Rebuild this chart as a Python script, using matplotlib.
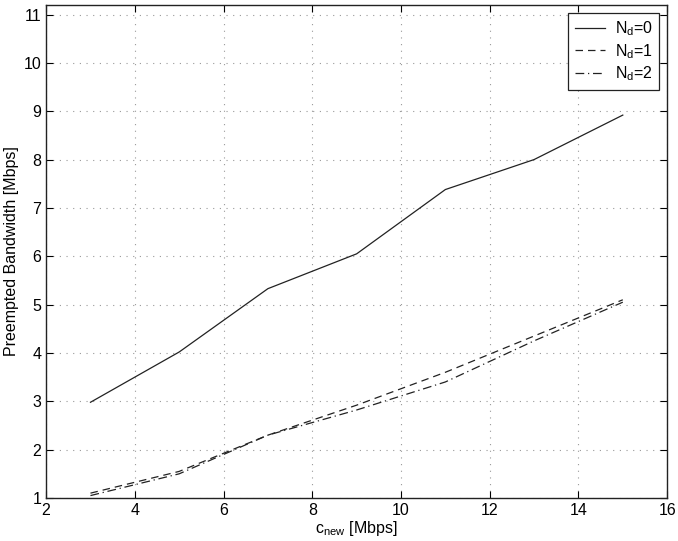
import numpy as np
import matplotlib.pyplot as plt

plt.rcParams['font.family'] = ['Liberation Sans', 'DejaVu Sans']
plt.rcParams['mathtext.fontset'] = 'custom'
plt.rcParams['mathtext.rm'] = 'Liberation Sans'

# data
c_new = [3, 5, 7, 9, 11, 13, 15]
bw_nd0 = [2.98, 4.02, 5.33, 6.05, 7.38, 8.00, 8.92]
bw_nd1 = [1.10, 1.55, 2.30, 2.92, 3.60, 4.35, 5.10]
bw_nd2 = [1.05, 1.50, 2.30, 2.82, 3.40, 4.25, 5.05]
labels = [r'N$_\mathregular{d}$=0', r'N$_\mathregular{d}$=1', r'N$_\mathregular{d}$=2']

fig = plt.figure(figsize=(6.78, 5.41), dpi=100)
ax = fig.add_axes([0.068, 0.0795, 0.916, 0.9115])

ax.plot(c_new, bw_nd0, color='#222222', lw=0.9, ls='-', label=labels[0])
ax.plot(c_new, bw_nd1, color='#222222', lw=0.9, ls=(0, (6, 4)), label=labels[1])
ax.plot(c_new, bw_nd2, color='#222222', lw=0.9, ls=(0, (7, 3, 1, 3)), label=labels[2])

ax.set_xlim(2, 16)
ax.set_ylim(1, 11.2)
ax.set_xticks(np.arange(2, 17, 2))
ax.set_yticks(np.arange(1, 12, 1))
ax.grid(True, color='#999999', ls=(0, (1, 5)), lw=0.8)
ax.tick_params(direction='in', top=True, right=True, labelsize=11.5, length=5)
for s in ax.spines.values():
    s.set_color('#222222')
    s.set_linewidth(1.0)

ax.set_xlabel(r'c$_\mathregular{new}$ [Mbps]', fontsize=11.5, labelpad=1)
ax.set_ylabel('Preempted Bandwidth [Mbps]', fontsize=11.5, labelpad=3)

leg = ax.legend(loc='upper right', fontsize=11.5, fancybox=False, framealpha=1,
                edgecolor='#222222', handlelength=1.9, borderaxespad=0.5,
                labelspacing=0.25, handletextpad=0.6)
leg.get_frame().set_linewidth(0.9)

fig.savefig('out.png', dpi=100)
